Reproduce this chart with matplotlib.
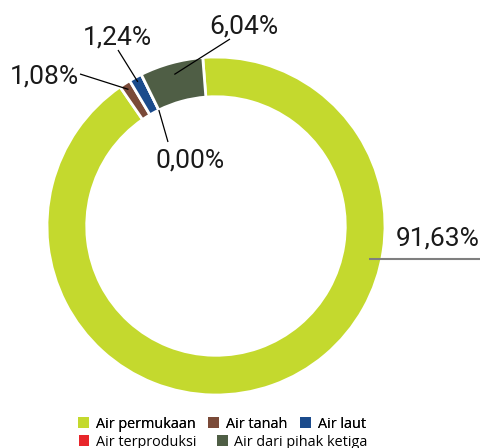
import matplotlib
matplotlib.use("Agg")
import matplotlib.pyplot as plt
from matplotlib.patches import Patch
import numpy as np

categories = ["Air permukaan", "Air tanah", "Air laut", "Air terproduksi", "Air dari pihak ketiga"]
values = [91.63, 1.08, 1.24, 0.00, 6.04]
labels = ["91,63%", "1,08%", "1,24%", "0,00%", "6,04%"]
colors = ["#C4D92E", "#7A4A38", "#1B4B8C", "#E8262B", "#4F5E45"]

W, H, DPI = 482, 448, 100
fig = plt.figure(figsize=(W / DPI, H / DPI), dpi=DPI)
cx, cy, R = 216, 226, 169
ax = fig.add_axes([(cx - R) / W, (H - cy - R) / H, 2 * R / W, 2 * R / H])
wedges, _ = ax.pie(values, colors=colors, startangle=94.5, counterclock=False, radius=1.0,
                   wedgeprops=dict(width=0.235, edgecolor="white", linewidth=2.0))
ax.set_xlim(-1, 1)
ax.set_ylim(-1, 1)
ax.set_aspect("equal")
ax.axis("off")


def px(x, y):
    return ((x - cx) / R, (cy - y) / R)


def mid_point(i, r):
    w = wedges[i]
    a = np.deg2rad((w.theta1 + w.theta2) / 2)
    return (r * np.cos(a), r * np.sin(a))


lab_font = dict(family=["Roboto", "DejaVu Sans"], fontsize=19, color="#1a1a1a")

# label layout: index -> (text pos px, ha, line start px, anchor radius)
layout = {
    4: ((244, 26), "center", (230, 39), 0.93),
    2: ((117, 37), "center", (118, 50), 0.97),
    1: ((44, 76), "center", (80, 74), 0.96),
    3: ((190, 160), "center", (168, 142), 0.765),
}
for i, (tp, ha, ls, ra) in layout.items():
    tx, ty = px(*tp)
    ax.text(tx, ty, labels[i], ha=ha, va="center", clip_on=False, **lab_font)
    sx, sy = px(*ls)
    axp, ayp = mid_point(i, ra)
    ax.plot([sx, axp], [sy, ayp], color="black", lw=0.9, clip_on=False,
            solid_capstyle="butt")

# big slice label
tx, ty = px(480, 238)
ax.text(tx, ty, labels[0], ha="right", va="center", clip_on=False, **lab_font)
x1, y1 = px(369, 259)
x2, y2 = px(480, 259)
ax.plot([x1, x2], [y1, y2], color="#7f7f7f", lw=1.5, clip_on=False, solid_capstyle="butt")

leg_font = dict(family=["Open Sans", "DejaVu Sans"], size=10.4)
h = [Patch(facecolor=c, edgecolor="none") for c in colors]
leg1 = fig.legend(h[:3], categories[:3], loc="center", bbox_to_anchor=(222 / W, 1 - 424 / H),
                  ncol=3, frameon=False, handlelength=0.75, handleheight=0.75,
                  handletextpad=0.45, columnspacing=0.9, prop=leg_font,
                  borderpad=0, borderaxespad=0)
leg2 = fig.legend(h[3:], categories[3:], loc="center", bbox_to_anchor=(223 / W, 1 - 442 / H),
                  ncol=2, frameon=False, handlelength=0.75, handleheight=0.75,
                  handletextpad=0.45, columnspacing=1.4, prop=leg_font,
                  borderpad=0, borderaxespad=0)
fig.add_artist(leg1)

fig.savefig("out.png", dpi=DPI)
